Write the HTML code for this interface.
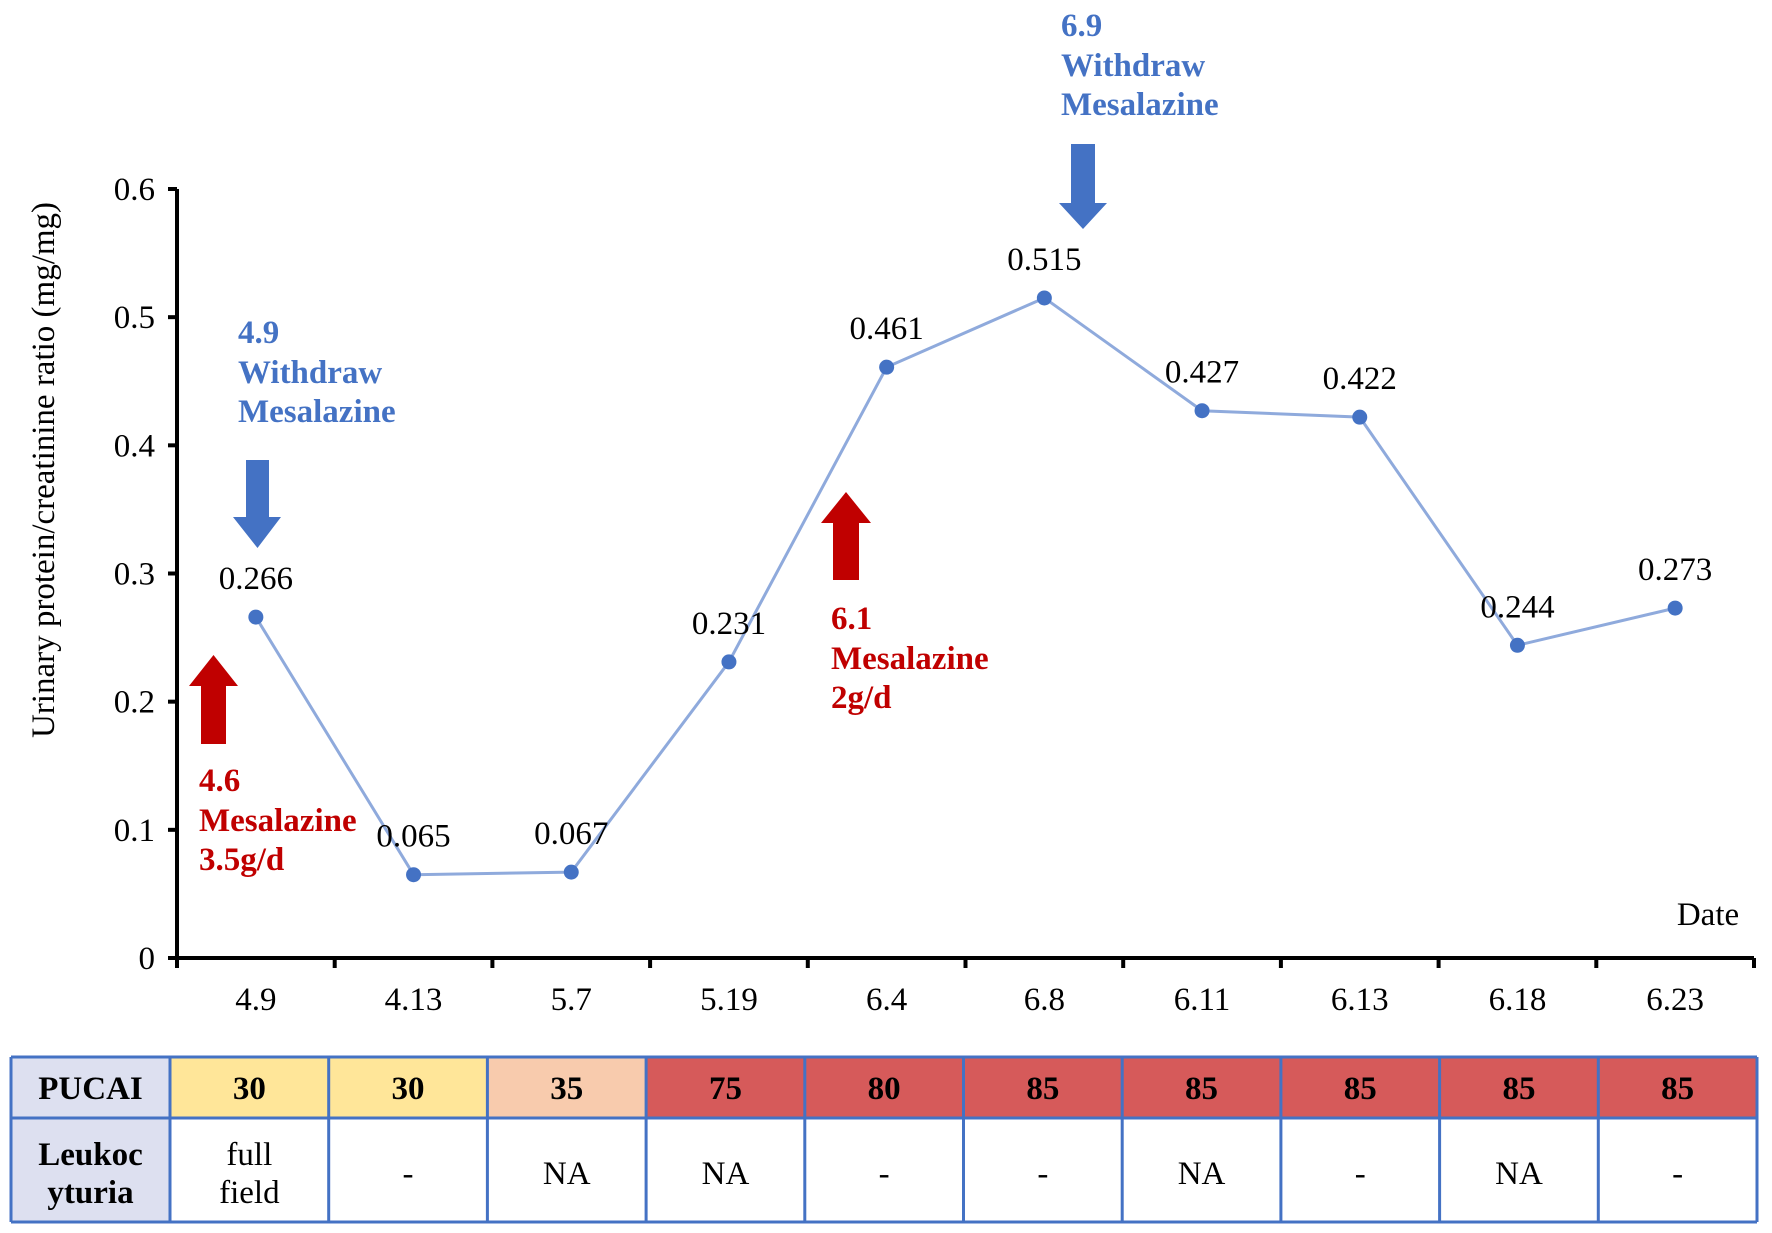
<!DOCTYPE html>
<html><head><meta charset="utf-8"><style>
body{margin:0;background:#fff;}
svg{display:block;font-family:"Liberation Serif",serif;}
</style></head><body>
<svg id="chart" width="1772" height="1233" viewBox="0 0 1772 1233">
<g id="axes"></g>
<g id="series"></g>
<g id="annotations" font-weight="bold" font-size="33">
  <text x="238" y="343" fill="#4472C4"><tspan x="238">4.9</tspan><tspan x="238" dy="40">Withdraw</tspan><tspan x="238" dy="39">Mesalazine</tspan></text>
  <polygon points="246,460 269,460 269,517 281,517 257.5,548 233,517 246,517" fill="#4472C4"/>
  <polygon points="201,744 226,744 226,686 238,686 213.5,655 189,686 201,686" fill="#C00000"/>
  <text x="199" y="791" fill="#C00000"><tspan x="199">4.6</tspan><tspan x="199" dy="40">Mesalazine</tspan><tspan x="199" dy="39">3.5g/d</tspan></text>
  <polygon points="833,580 859,580 859,523 871,523 846,492 821,523 833,523" fill="#C00000"/>
  <text x="831" y="629" fill="#C00000"><tspan x="831">6.1</tspan><tspan x="831" dy="40">Mesalazine</tspan><tspan x="831" dy="39">2g/d</tspan></text>
  <text x="1061" y="36" fill="#4472C4"><tspan x="1061">6.9</tspan><tspan x="1061" dy="40">Withdraw</tspan><tspan x="1061" dy="39">Mesalazine</tspan></text>
  <polygon points="1071,144 1095,144 1095,203 1107,203 1083,229 1059,203 1071,203" fill="#4472C4"/>
</g>
<g id="table"></g>
</svg>
<script>
const categories=["4.9","4.13","5.7","5.19","6.4","6.8","6.11","6.13","6.18","6.23"];
const values=[0.266,0.065,0.067,0.231,0.461,0.515,0.427,0.422,0.244,0.273];
const valueLabels=["0.266","0.065","0.067","0.231","0.461","0.515","0.427","0.422","0.244","0.273"];
const yTicks=[0,0.1,0.2,0.3,0.4,0.5,0.6];
const yTickLabels=["0","0.1","0.2","0.3","0.4","0.5","0.6"];
const pucai=["30","30","35","75","80","85","85","85","85","85"];
const leuko=["full\nfield","-","NA","NA","-","-","NA","-","NA","-"];

const NS="http://www.w3.org/2000/svg";
const X0=177,X1=1754,Y0=958,YTOP=189;
const FS=33;
const step=(X1-X0)/categories.length;
const xs=i=>X0+step*(i+0.5);
const ys=v=>Y0-(v/0.6)*(Y0-YTOP);
function mk(tag,attrs,parent,text){const e=document.createElementNS(NS,tag);for(const k in attrs)e.setAttribute(k,attrs[k]);if(text!==undefined)e.textContent=text;parent.appendChild(e);return e;}
const axes=document.getElementById('axes');
let e;
e=mk('line',{x1:X0,y1:YTOP,x2:X0,y2:Y0+9,stroke:'#000','stroke-width':4},axes);


e=mk('line',{x1:X0-2,y1:Y0,x2:X1,y2:Y0,stroke:'#000','stroke-width':4},axes);


yTicks.forEach((t,i)=>{
  const y=ys(t);
  e=mk('line',{x1:X0-9,y1:y,x2:X0,y2:y,stroke:'#000','stroke-width':4},axes);
  
  
  e=mk('text',{x:X0-22,y:y+11,'text-anchor':'end','font-size':FS},axes,yTickLabels[i]);
  
  
});
for(let i=0;i<=categories.length;i++){
  const x=X0+step*i;
  e=mk('line',{x1:x,y1:Y0,x2:x,y2:Y0+10,stroke:'#000','stroke-width':4},axes);
  
  
}
categories.forEach((c,i)=>{
  e=mk('text',{x:xs(i),y:1010,'text-anchor':'middle','font-size':FS},axes,c);
  
  
});
e=mk('text',{x:0,y:0,'text-anchor':'middle','font-size':FS,transform:'translate(54,470) rotate(-90)'},axes,'Urinary protein/creatinine ratio (mg/mg)');


e=mk('text',{x:1708,y:925,'text-anchor':'middle','font-size':FS},axes,'Date');



const series=document.getElementById('series');
e=mk('polyline',{points:values.map((v,i)=>xs(i)+','+ys(v)).join(' '),fill:'none',stroke:'#8FAADC','stroke-width':3},series);


values.forEach((v,i)=>{
  e=mk('circle',{cx:xs(i),cy:ys(v),r:7.5,fill:'#4472C4'},series);
  
  
  e=mk('text',{x:xs(i),y:ys(v)-28,'text-anchor':'middle','font-size':FS},series,valueLabels[i]);
  
  
});

const table=document.getElementById('table');
const TX=11,TC=170,TR=1757,T0=1057,T1=1118,T2=1222;
const cw=(TR-TC)/categories.length;
function colorFor(v){v=+v;return v>=75?'#D65A5A':(v>=35?'#F8CBAD':'#FFE699');}
e=mk('rect',{x:TX,y:T0,width:TC-TX,height:T1-T0,fill:'#DDE0F0'},table);


e=mk('rect',{x:TX,y:T1,width:TC-TX,height:T2-T1,fill:'#DDE0F0'},table);


e=mk('text',{x:(TX+TC)/2,y:1099,'text-anchor':'middle','font-size':FS,'font-weight':'bold'},table,'PUCAI');


e=mk('text',{x:(TX+TC)/2,y:1165,'text-anchor':'middle','font-size':FS,'font-weight':'bold'},table,'Leukoc');


mk('tspan',{x:(TX+TC)/2,dy:38},e,'yturia');
e.firstChild.textContent='Leukoc';
pucai.forEach((p,i)=>{
  const x=TC+cw*i;
  e=mk('rect',{x:x,y:T0,width:cw,height:T1-T0,fill:colorFor(p)},table);
  
  
  e=mk('text',{x:x+cw/2,y:1099,'text-anchor':'middle','font-size':FS,'font-weight':'bold'},table,p);
  
  
  const lines=leuko[i].split('\n');
  if(lines.length>1){
    e=mk('text',{x:x+cw/2,y:1165,'text-anchor':'middle','font-size':FS},table);
    mk('tspan',{x:x+cw/2},e,lines[0]);
    mk('tspan',{x:x+cw/2,dy:38},e,lines[1]);
  } else {
    e=mk('text',{x:x+cw/2,y:1184,'text-anchor':'middle','font-size':FS},table,lines[0]);
  }
  
  
});
[T0,T1,T2].forEach(y=>{mk('line',{x1:TX,y1:y,x2:TR,y2:y,stroke:'#4472C4','stroke-width':3},table);});
mk('line',{x1:TX,y1:T0,x2:TX,y2:T2,stroke:'#4472C4','stroke-width':3},table);
for(let i=0;i<=categories.length;i++){const x=TC+cw*i;mk('line',{x1:x,y1:T0,x2:x,y2:T2,stroke:'#4472C4','stroke-width':3},table);}
</script>
</body></html>
